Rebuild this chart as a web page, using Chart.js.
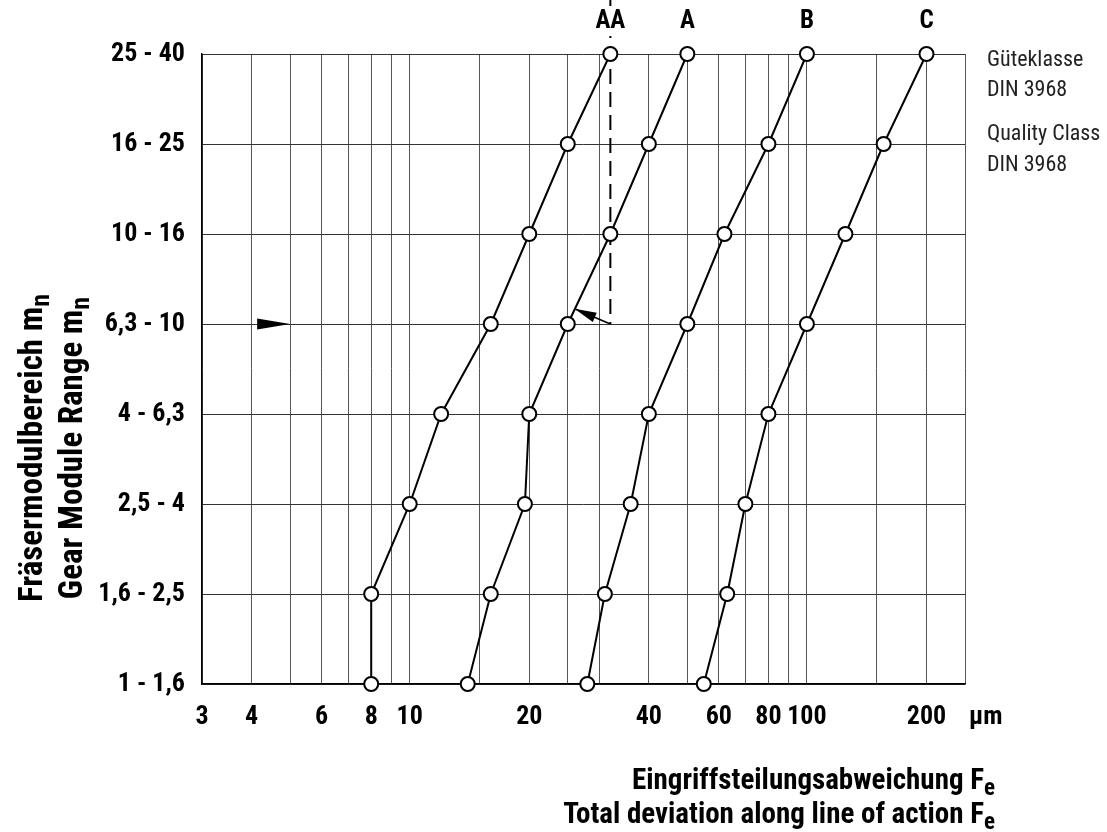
<!DOCTYPE html>
<html>
<head>
<meta charset="utf-8">
<script src="https://cdn.jsdelivr.net/npm/chart.js@4.4.1/dist/chart.umd.min.js"></script>
<style>
  body { margin: 0; background: #fff; }
  #wrap { width: 1107px; height: 832px; }
</style>
</head>
<body>
<div id="wrap"><canvas id="c"></canvas></div>
<script>
// module ranges, bottom to top
const rowLabels = ['1 - 1,6', '1,6 - 2,5', '2,5 - 4', '4 - 6,3', '6,3 - 10', '10 - 16', '16 - 25', '25 - 40'];

// deviation in µm per quality class, one value per module range
const classAA = [8, 8, 10, 12, 16, 20, 25, 32];
const classA = [14, 16, 19.5, 20, 25, 32, 40, 50];
const classB = [28, 31, 36, 40, 50, 62, 80, 100];
const classC = [55, 63, 70, 80, 100, 125, 156, 200];
const seriesNames = ['AA', 'A', 'B', 'C'];

const gridValues = [3, 4, 5, 6, 7, 8, 9, 10, 15, 20, 25, 30, 40, 50, 60, 70, 80, 90, 100, 150, 200, 250];
const tickLabels = [3, 4, 6, 8, 10, 20, 40, 60, 80, 100, 200];

// reading example: marker at 5, dashed line at 32 down to row "6,3 - 10", arrow to class A
const markerValue = 5;
const refValue = 32;
const refRow = 4;
const arrowTip = { x: 26, y: 4.17 };

const FONT = "'Roboto Condensed', 'Liberation Sans Narrow', Roboto, sans-serif";

function textWithSub(ctx, main, sub, x, y, size, align) {
  // draws "main" followed by a lowered, smaller "sub"; align = 'right' | 'center'
  ctx.font = 'bold ' + size + 'px ' + FONT;
  const wMain = ctx.measureText(main).width;
  const subSize = Math.round(size * 0.78);
  ctx.font = 'bold ' + subSize + 'px ' + FONT;
  const wSub = ctx.measureText(sub).width;
  const total = wMain + wSub;
  let start = align === 'right' ? x - total : x - total / 2;
  ctx.textAlign = 'left';
  ctx.textBaseline = 'alphabetic';
  ctx.font = 'bold ' + size + 'px ' + FONT;
  ctx.fillText(main, start, y);
  ctx.font = 'bold ' + subSize + 'px ' + FONT;
  ctx.fillText(sub, start + wMain, y + size * 0.2);
}

const overlay = {
  id: 'overlay',
  beforeDatasetsDraw(chart) {
    const { ctx, scales: { x, y } } = chart;
    const px = x.getPixelForValue(refValue);
    ctx.save();
    ctx.strokeStyle = '#000';
    ctx.lineWidth = 2;
    ctx.setLineDash([15, 8]);
    ctx.beginPath();
    ctx.moveTo(px, 0);
    ctx.lineTo(px, y.getPixelForValue(refRow));
    ctx.stroke();
    ctx.restore();
  },
  afterDatasetsDraw(chart) {
    const { ctx, scales: { x, y } } = chart;
    ctx.save();
    ctx.fillStyle = '#000';
    ctx.strokeStyle = '#000';

    // triangle marker pointing right
    const mx = x.getPixelForValue(markerValue);
    const my = y.getPixelForValue(refRow);
    ctx.beginPath();
    ctx.moveTo(mx, my);
    ctx.lineTo(mx - 33, my - 5.5);
    ctx.lineTo(mx - 33, my + 5.5);
    ctx.closePath();
    ctx.fill();

    // arrow from the dashed line to class A
    const tx = x.getPixelForValue(refValue), ty = y.getPixelForValue(refRow);
    const hx = x.getPixelForValue(arrowTip.x), hy = y.getPixelForValue(arrowTip.y);
    const ang = Math.atan2(hy - ty, hx - tx);
    ctx.lineWidth = 1.5;
    ctx.beginPath();
    ctx.moveTo(tx, ty);
    ctx.lineTo(hx, hy);
    ctx.stroke();
    const L = 22, W = 5;
    const bx = hx - L * Math.cos(ang), by = hy - L * Math.sin(ang);
    ctx.beginPath();
    ctx.moveTo(hx, hy);
    ctx.lineTo(bx + W * Math.sin(ang), by - W * Math.cos(ang));
    ctx.lineTo(bx - W * Math.sin(ang), by + W * Math.cos(ang));
    ctx.closePath();
    ctx.fill();
    ctx.restore();
  },
  afterDraw(chart) {
    const { ctx, scales: { x, y }, data } = chart;
    ctx.save();
    ctx.fillStyle = '#000';

    // class names above the top points
    ctx.font = 'bold 25px ' + FONT;
    ctx.textAlign = 'center';
    ctx.textBaseline = 'middle';
    data.datasets.forEach((ds, i) => {
      const top = ds.data[ds.data.length - 1];
      const px = x.getPixelForValue(top.x);
      const w = ctx.measureText(seriesNames[i]).width;
      ctx.fillStyle = '#fff';
      ctx.fillRect(px - w / 2 - 3, 6, w + 6, 30);
      ctx.fillStyle = '#000';
      ctx.fillText(seriesNames[i], px, 22);
    });

    // unit at the end of the x ticks
    ctx.font = 'bold 26px ' + FONT;
    ctx.textAlign = 'left';
    ctx.fillText('µm', 969, 717);

    // legend text on the right
    ctx.font = '22px ' + FONT;
    ctx.fillStyle = '#222';
    ctx.fillText('Güteklasse', 987, 60);
    ctx.fillText('DIN 3968', 987, 90);
    ctx.fillText('Quality Class', 987, 134);
    ctx.fillText('DIN 3968', 987, 165);

    // x axis title, right aligned, two lines
    ctx.fillStyle = '#000';
    textWithSub(ctx, 'Eingriffsteilungsabweichung F', 'e', 995, 789, 29, 'right');
    textWithSub(ctx, 'Total deviation along line of action F', 'e', 995, 823, 29, 'right');

    // y axis title, rotated
    ctx.translate(0, 448);
    ctx.rotate(-Math.PI / 2);
    textWithSub(ctx, 'Fräsermodulbereich m', 'n', 0, 42, 33, 'center');
    textWithSub(ctx, 'Gear Module Range m', 'n', 0, 82, 33, 'center');
    ctx.restore();
  }
};

const colors = ['#000', '#000', '#000', '#000'];

new Chart(document.getElementById('c'), {
  type: 'line',
  data: {
    datasets: [classAA, classA, classB, classC].map((vals, i) => ({
      label: seriesNames[i],
      data: vals.map((v, r) => ({ x: v, y: r })),
      borderColor: colors[i],
      borderWidth: 2,
      pointRadius: 7,
      pointBorderWidth: 2,
      pointBackgroundColor: '#fff',
      pointBorderColor: colors[i],
      tension: 0,
      fill: false,
      clip: false
    }))
  },
  options: {
    responsive: true,
    maintainAspectRatio: false,
    animation: false,
    layout: { padding: { top: 54, right: 142, left: 0, bottom: 0 } },
    plugins: { legend: { display: false }, tooltip: { enabled: false } },
    scales: {
      x: {
        type: 'logarithmic',
        min: 3,
        max: 250,
        afterBuildTicks: (s) => { s.ticks = gridValues.map((v) => ({ value: v })); },
        afterFit: (s) => { s.height = 148; },
        grid: { color: '#555', lineWidth: 1, drawTicks: false },
        border: { color: '#000', width: 1.5 },
        ticks: {
          autoSkip: false,
          maxRotation: 0,
          padding: 18,
          color: '#000',
          font: { family: FONT, size: 26, weight: 'bold' },
          callback: (v) => (tickLabels.includes(v) ? String(v) : '')
        }
      },
      y: {
        type: 'linear',
        min: 0,
        max: 7,
        afterBuildTicks: (s) => { s.ticks = rowLabels.map((_, i) => ({ value: i })); },
        afterFit: (s) => { s.width = 202; },
        grid: { color: '#333', lineWidth: 1, drawTicks: false },
        border: { color: '#000', width: 1.5 },
        ticks: {
          padding: 17,
          color: '#000',
          font: { family: FONT, size: 26, weight: 'bold' },
          callback: (v) => rowLabels[v]
        }
      }
    }
  },
  plugins: [overlay]
});
</script>
</body>
</html>
